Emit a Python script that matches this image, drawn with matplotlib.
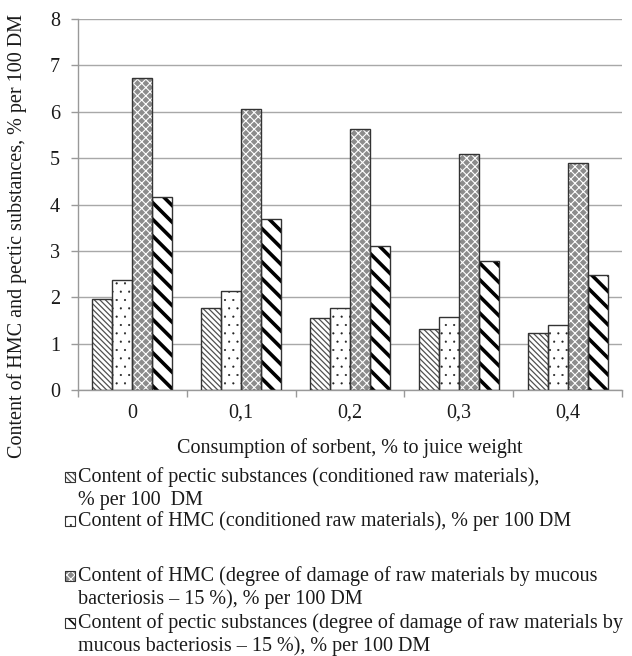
import matplotlib
matplotlib.use("Agg")
import matplotlib.pyplot as plt
from matplotlib.patches import Rectangle
import numpy as np

categories = ["0", "0,1", "0,2", "0,3", "0,4"]
pectic_cond = [1.96, 1.77, 1.55, 1.31, 1.23]
hmc_cond = [2.37, 2.13, 1.76, 1.57, 1.41]
hmc_damaged = [6.72, 6.06, 5.63, 5.09, 4.89]
pectic_damaged = [4.17, 3.69, 3.10, 2.79, 2.49]

labels = [
    "Content of pectic substances (conditioned raw materials),\n% per 100  DM",
    "Content of HMC (conditioned raw materials), % per 100 DM",
    "Content of HMC (degree of damage of raw materials by mucous\nbacteriosis \u2013 15 %), % per 100 DM",
    "Content of pectic substances (degree of damage of raw materials by\nmucous bacteriosis \u2013 15 %), % per 100 DM",
]
xlabel = "Consumption of sorbent, % to juice weight"
ylabel = "Content of HMC and pectic substances, % per 100 DM"

plt.rcParams['font.family'] = ['Liberation Serif', 'DejaVu Serif']
TXT = '#1a1a1a'
FS = 14.5

W, H = 632, 656
fig = plt.figure(figsize=(W / 100, H / 100), dpi=100)
ax = fig.add_axes([78 / W, 1 - 390 / H, (622 - 78) / W, (390 - 19) / H])

series = [pectic_cond, hmc_cond, hmc_damaged, pectic_damaged]
styles = [
    dict(face='white', hatch='\\\\\\\\\\\\', hcol='#505050', hlw=0.9),
    dict(face='white', hatch='..', hcol='#202020', hlw=0.3),
    dict(face='#8c8c8c', hatch='xxxx', hcol='#ffffff', hlw=0.8),
    dict(face='white', hatch='\\\\', hcol='#000000', hlw=2.6),
]

x = np.arange(len(categories))
bw = 0.184
offsets = (np.arange(4) - 1.5) * bw


def set_hlw(p, w):
    try:
        p.set_hatch_linewidth(w)
    except Exception:
        p._hatch_linewidth = w


for vals, off, st in zip(series, offsets, styles):
    with plt.rc_context({'hatch.linewidth': st['hlw'], 'hatch.color': st['hcol']}):
        bars = ax.bar(x + off, vals, width=bw, color=st['face'], edgecolor=st['hcol'],
                      linewidth=0, hatch=st['hatch'], zorder=2)
    for b in bars:
        set_hlw(b, st['hlw'])
    ax.bar(x + off, vals, width=bw, fill=False, edgecolor='#333333', linewidth=1.0, zorder=3)

ax.set_xlim(-0.5, len(categories) - 0.5)
ax.set_ylim(0, 8)
ax.set_yticks(range(0, 9))
ax.set_xticks(x)
ax.set_xticklabels(categories)
ax.set_xticks(np.arange(-0.5, len(categories)), minor=True)
ax.tick_params(axis='x', which='major', length=0, pad=10, labelsize=FS, labelcolor=TXT)
ax.tick_params(axis='x', which='minor', length=5, color='#999999', width=1)
ax.tick_params(axis='y', length=5, color='#999999', width=1, pad=8, labelsize=FS, labelcolor=TXT)
ax.grid(axis='y', color='#a8a8a8', linewidth=1, zorder=0)
ax.set_axisbelow(True)
for s in ['top', 'right']:
    ax.spines[s].set_visible(False)
for s in ['left', 'bottom']:
    ax.spines[s].set_color('#999999')
    ax.spines[s].set_linewidth(1)

fig.text((78 + 622) / 2 / W, 1 - 448 / H, xlabel,
         fontsize=FS, color=TXT, ha='center', va='center')
fig.text(17 / W, 1 - 236 / H, ylabel,
         fontsize=FS, color=TXT, ha='center', va='center', rotation=90)

# legend drawn manually below the chart
line_h = 23
entry_y = [477, 521, 576, 623]
for lab, ey, st in zip(labels, entry_y, styles):
    for i, ln in enumerate(lab.split("\n")):
        fig.text(78 / W, 1 - (ey + i * line_h) / H, ln,
                 fontsize=FS, color=TXT, va='center', ha='left')
    with plt.rc_context({'hatch.linewidth': min(st['hlw'], 1.2), 'hatch.color': st['hcol']}):
        r = Rectangle((65 / W, 1 - (ey + 5) / H), 10 / W, 10 / H, transform=fig.transFigure,
                      facecolor=st['face'], edgecolor=st['hcol'], hatch=st['hatch'], linewidth=0)
    set_hlw(r, min(st['hlw'], 1.2))
    fig.add_artist(r)
    r2 = Rectangle((65 / W, 1 - (ey + 5) / H), 10 / W, 10 / H, transform=fig.transFigure,
                   fill=False, edgecolor='#333333', linewidth=0.8)
    fig.add_artist(r2)

fig.savefig("out.png", dpi=100)
